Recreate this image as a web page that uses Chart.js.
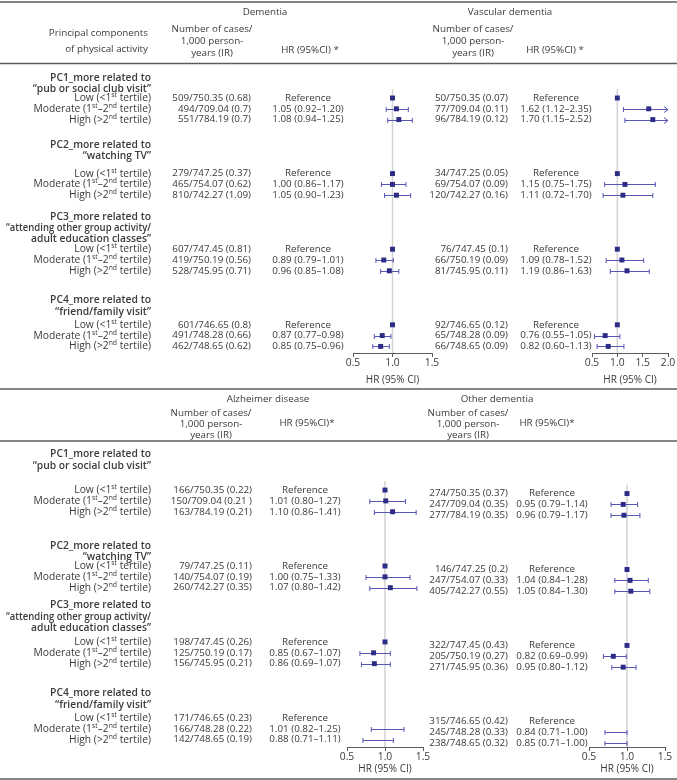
<!DOCTYPE html>
<html><head><meta charset="utf-8">
<script src="https://cdn.jsdelivr.net/npm/chart.js@4.4.1/dist/chart.umd.min.js"></script>
<style>html,body{margin:0;padding:0;background:#fff;}canvas{display:block;}</style>
</head><body>
<canvas id="c" width="677" height="780"></canvas>
<script>
// ---------------- DATA ----------------
const groupTitles = [
  ['PC1_more related to', '\u201Cpub or social club visit\u201D'],
  ['PC2_more related to', '\u201Cwatching TV\u201D'],
  ['PC3_more related to', '\u201Cattending other group activity/', 'adult education classes\u201D'],
  ['PC4_more related to', '\u201Cfriend/family visit\u201D']
];
const levels = ['Low (<1^st^ tertile)', 'Moderate (1^st^\u20132^nd^ tertile)', 'High (>2^nd^ tertile)'];

const demCases = ['509/750.35 (0.68)','494/709.04 (0.7)','551/784.19 (0.7)',
  '279/747.25 (0.37)','465/754.07 (0.62)','810/742.27 (1.09)',
  '607/747.45 (0.81)','419/750.19 (0.56)','528/745.95 (0.71)',
  '601/746.65 (0.8)','491/748.28 (0.66)','462/748.65 (0.62)'];
const demHR = [1, 1.05, 1.08, 1, 1.00, 1.05, 1, 0.89, 0.96, 1, 0.87, 0.85];
const demLo = [null, 0.92, 0.94, null, 0.86, 0.90, null, 0.79, 0.85, null, 0.77, 0.75];
const demHi = [null, 1.20, 1.25, null, 1.17, 1.23, null, 1.01, 1.08, null, 0.98, 0.96];

const vasCases = ['50/750.35 (0.07)','77/709.04 (0.11)','96/784.19 (0.12)',
  '34/747.25 (0.05)','69/754.07 (0.09)','120/742.27 (0.16)',
  '76/747.45 (0.1)','66/750.19 (0.09)','81/745.95 (0.11)',
  '92/746.65 (0.12)','65/748.28 (0.09)','66/748.65 (0.09)'];
const vasHR = [1, 1.62, 1.70, 1, 1.15, 1.11, 1, 1.09, 1.19, 1, 0.76, 0.82];
const vasLo = [null, 1.12, 1.15, null, 0.75, 0.72, null, 0.78, 0.86, null, 0.55, 0.60];
const vasHi = [null, 2.35, 2.52, null, 1.75, 1.70, null, 1.52, 1.63, null, 1.05, 1.13];

const alzCases = ['166/750.35 (0.22)','150/709.04 (0.21 )','163/784.19 (0.21)',
  '79/747.25 (0.11)','140/754.07 (0.19)','260/742.27 (0.35)',
  '198/747.45 (0.26)','125/750.19 (0.17)','156/745.95 (0.21)',
  '171/746.65 (0.23)','166/748.28 (0.22)','142/748.65 (0.19)'];
const alzHR = [1, 1.01, 1.10, 1, 1.00, 1.07, 1, 0.85, 0.86, 1, 1.01, 0.88];
const alzLo = [null, 0.80, 0.86, null, 0.75, 0.80, null, 0.67, 0.69, null, 0.82, 0.71];
const alzHi = [null, 1.27, 1.41, null, 1.33, 1.42, null, 1.07, 1.07, null, 1.25, 1.11];

const othCases = ['274/750.35 (0.37)','247/709.04 (0.35)','277/784.19 (0.35)',
  '146/747.25 (0.2)','247/754.07 (0.33)','405/742.27 (0.55)',
  '322/747.45 (0.43)','205/750.19 (0.27)','271/745.95 (0.36)',
  '315/746.65 (0.42)','245/748.28 (0.33)','238/748.65 (0.32)'];
const othHR = [1, 0.95, 0.96, 1, 1.04, 1.05, 1, 0.82, 0.95, 1, 0.84, 0.85];
const othLo = [null, 0.79, 0.79, null, 0.84, 0.84, null, 0.69, 0.80, null, 0.71, 0.71];
const othHi = [null, 1.14, 1.17, null, 1.28, 1.30, null, 0.99, 1.12, null, 1.00, 1.00];

const ticksShort = [0.5, 1.0, 1.5];
const ticksLong = [0.5, 1.0, 1.5, 2.0];

// ---------------- STYLE / LAYOUT ----------------
const FONT = '"Open Sans", "Noto Sans", sans-serif';
const FS = 9.8;
const LFS = 10.3;
const TEXT = '#3a3a3a';
const RULE = '#5c5c5c';
const MARK = '#2c2b86';
const CI = '#5656b6';
const REF = '#d2d2d2';
const GROUP_STEP = 7;
const slot = i => Math.floor(i / 3) * GROUP_STEP + (i % 3);

const place = {
  xDem: {left: 353, right: 432, top: 353, bottom: 386},
  xVas: {left: 592, right: 668, top: 353, bottom: 386},
  xAlz: {left: 347, right: 423, top: 747, bottom: 775},
  xOth: {left: 589, right: 665, top: 747, bottom: 775},
  yTop: {top: 87.2, bottom: 368.0},
  yBotL: {top: 479.2, bottom: 761.3},
  yBotR: {top: 482.7, bottom: 764.8}
};

const panels = [
  {title: 'Dementia', titleX: 265, titleY: 12, headX: 212, headYs: [29, 41, 53], hrHead: 'HR (95%CI) *', hrHeadX: 310, hrHeadY: 50,
   casesRight: 251, hrX: 308, cases: demCases, hr: demHR, lo: demLo, hi: demHi, x: 'xDem', y: 'yTop'},
  {title: 'Vascular dementia', titleX: 510, titleY: 12, headX: 473, headYs: [29, 41, 53], hrHead: 'HR (95%CI) *', hrHeadX: 555, hrHeadY: 50,
   casesRight: 508, hrX: 556, cases: vasCases, hr: vasHR, lo: vasLo, hi: vasHi, x: 'xVas', y: 'yTop'},
  {title: 'Alzheimer disease', titleX: 268, titleY: 399, headX: 211, headYs: [413, 424, 435], hrHead: 'HR (95%CI)*', hrHeadX: 307, hrHeadY: 423,
   casesRight: 252, hrX: 305, cases: alzCases, hr: alzHR, lo: alzLo, hi: alzHi, x: 'xAlz', y: 'yBotL'},
  {title: 'Other dementia', titleX: 497, titleY: 399, headX: 468, headYs: [413, 424, 435], hrHead: 'HR (95%CI)*', hrHeadX: 547, hrHeadY: 423,
   casesRight: 508, hrX: 552, cases: othCases, hr: othHR, lo: othLo, hi: othHi, x: 'xOth', y: 'yBotR'}
];

const sides = [
  {y: 'yTop', headerOffsets: [[20, 9], [29, 18], [32, 21, 10], [25, 13]]},
  {y: 'yBotL', headerOffsets: [[36, 24], [20, 9], [37, 25, 14], [25, 13]]}
];
const rules = [2, 63.5, 389, 441, 779];

// ---------------- HELPERS ----------------
function drawRich(ctx, str, x, y, align, font, supFont) {
  const parts = str.split('^');
  const widths = parts.map((p, i) => { ctx.font = i % 2 ? supFont : font; return ctx.measureText(p).width; });
  const total = widths.reduce((a, b) => a + b, 0);
  let cx = align === 'right' ? x - total : align === 'center' ? x - total / 2 : x;
  ctx.textAlign = 'left';
  parts.forEach((p, i) => {
    ctx.font = i % 2 ? supFont : font;
    ctx.fillText(p, cx, i % 2 ? y - 3 : y);
    cx += widths[i];
  });
}
function fitText(ctx, t, x, y, maxW) {
  const w = ctx.measureText(t).width;
  if (w <= maxW) { ctx.fillText(t, x, y); return; }
  ctx.save(); ctx.translate(x, y); ctx.scale(maxW / w, 1); ctx.fillText(t, 0, 0); ctx.restore();
}
const hrText = (h, l, u) => l === null ? 'Reference' : `${h.toFixed(2)} (${l.toFixed(2)}\u2013${u.toFixed(2)})`;

function xScale(max, ticks, tickLen) {
  return {
    type: 'linear', axis: 'x', position: 'bottom', min: 0.5, max: max,
    afterBuildTicks: s => { s.ticks = ticks.map(v => ({value: v})); },
    ticks: {autoSkip: false, maxRotation: 0, minRotation: 0, padding: 0, color: TEXT,
      font: {family: FONT, size: 10.3}, callback: v => Number(v).toFixed(1)},
    grid: {display: true, drawOnChartArea: false, drawTicks: true, tickLength: tickLen, color: RULE, tickWidth: 1},
    border: {display: true, color: RULE, width: 1},
    title: {display: true, text: 'HR (95% CI)', color: TEXT, font: {family: FONT, size: 10}, padding: 0}
  };
}

// ---------------- PLUGINS ----------------
const placer = {
  id: 'placer',
  afterLayout(chart) {
    for (const [id, p] of Object.entries(place)) {
      const s = chart.scales[id];
      if (!s) continue;
      if (p.left !== undefined) { s.left = p.left; s.right = p.right; s.width = p.right - p.left; }
      if (p.top !== undefined) { s.top = p.top; s.bottom = p.bottom; s.height = p.bottom - p.top; }
      s.configure();
    }
  }
};

const background = {
  id: 'background',
  beforeDraw(chart) {
    const ctx = chart.ctx;
    ctx.save(); ctx.fillStyle = '#fff'; ctx.fillRect(0, 0, chart.width, chart.height); ctx.restore();
  }
};

const forest = {
  id: 'forest',
  beforeDatasetsDraw(chart) {
    const ctx = chart.ctx;
    ctx.save();
    for (const p of panels) {
      const xs = chart.scales[p.x], ys = chart.scales[p.y];
      const xr = xs.getPixelForValue(1);
      ctx.strokeStyle = REF; ctx.lineWidth = 1.5;
      ctx.beginPath(); ctx.moveTo(xr, ys.getPixelForValue(-0.8)); ctx.lineTo(xr, xs.top); ctx.stroke();
      ctx.strokeStyle = CI; ctx.lineWidth = 1;
      p.lo.forEach((l, i) => {
        if (l === null) return;
        const u = p.hi[i];
        const yy = Math.round(ys.getPixelForValue(slot(i))) + 0.5;
        const over = u > xs.max;
        const x1 = xs.getPixelForValue(l);
        const x2 = xs.getPixelForValue(over ? xs.max : u);
        ctx.beginPath();
        ctx.moveTo(x1, yy); ctx.lineTo(x2, yy);
        ctx.moveTo(x1, yy - 2.5); ctx.lineTo(x1, yy + 2.5);
        if (over) {
          ctx.moveTo(x2 - 4, yy - 3); ctx.lineTo(x2, yy); ctx.lineTo(x2 - 4, yy + 3);
        } else {
          ctx.moveTo(x2, yy - 2.5); ctx.lineTo(x2, yy + 2.5);
        }
        ctx.stroke();
      });
    }
    ctx.restore();
  }
};

const table = {
  id: 'table',
  afterDraw(chart) {
    const ctx = chart.ctx;
    ctx.save();
    ctx.fillStyle = TEXT;
    ctx.textBaseline = 'middle';
    const font = `${FS}px ${FONT}`;
    const lfont = `${LFS}px ${FONT}`;
    const bold = `600 ${LFS}px ${FONT}`;
    const sup = `${LFS * 0.66}px ${FONT}`;
    ctx.strokeStyle = RULE; ctx.lineWidth = 1.5;
    rules.forEach(r => { ctx.beginPath(); ctx.moveTo(0, r); ctx.lineTo(chart.width, r); ctx.stroke(); });
    ctx.font = font; ctx.textAlign = 'right';
    ctx.fillText('Principal components', 148, 33);
    ctx.fillText('of physical activity', 148, 49);
    for (const s of sides) {
      const ys = chart.scales[s.y];
      groupTitles.forEach((lines, g) => {
        const y0 = ys.getPixelForValue(g * GROUP_STEP);
        ctx.font = bold; ctx.textAlign = 'right';
        lines.forEach((t, k) => fitText(ctx, t, 151, y0 - s.headerOffsets[g][k], 145));
        levels.forEach((lv, r) => drawRich(ctx, lv, 151, ys.getPixelForValue(g * GROUP_STEP + r), 'right', lfont, sup));
      });
    }
    for (const p of panels) {
      const ys = chart.scales[p.y];
      ctx.font = font; ctx.textAlign = 'center';
      ctx.fillText(p.title, p.titleX, p.titleY);
      ['Number of cases/', '1,000 person-', 'years (IR)'].forEach((t, k) => ctx.fillText(t, p.headX, p.headYs[k]));
      ctx.fillText(p.hrHead, p.hrHeadX, p.hrHeadY);
      p.cases.forEach((c, i) => {
        const yy = ys.getPixelForValue(slot(i));
        ctx.textAlign = 'right'; ctx.fillText(c, p.casesRight, yy);
        ctx.textAlign = 'center'; ctx.fillText(hrText(p.hr[i], p.lo[i], p.hi[i]), p.hrX, yy);
      });
    }
    ctx.restore();
  }
};

// ---------------- CHART ----------------
const datasets = panels.map(p => ({
  label: p.title,
  data: p.hr.map((v, i) => ({x: v, y: slot(i)})),
  xAxisID: p.x, yAxisID: p.y,
  pointStyle: 'rect', pointRadius: 3.5, pointHoverRadius: 3.5,
  backgroundColor: MARK, borderColor: MARK, borderWidth: 0,
  clip: false
}));

new Chart(document.getElementById('c'), {
  type: 'scatter',
  data: {datasets},
  options: {
    responsive: false, animation: false, devicePixelRatio: 1,
    layout: {padding: 0},
    plugins: {legend: {display: false}, tooltip: {enabled: false}},
    scales: {
      xDem: xScale(1.5, ticksShort, 4),
      xVas: xScale(2.0, ticksLong, 4),
      xAlz: xScale(1.5, ticksShort, 4),
      xOth: xScale(1.5, ticksShort, 4),
      yTop: {type: 'linear', axis: 'y', display: false, reverse: true, min: -1, max: 25},
      yBotL: {type: 'linear', axis: 'y', display: false, reverse: true, min: -1, max: 25},
      yBotR: {type: 'linear', axis: 'y', display: false, reverse: true, min: -1, max: 25}
    }
  },
  plugins: [placer, background, forest, table]
});
</script>
</body></html>
